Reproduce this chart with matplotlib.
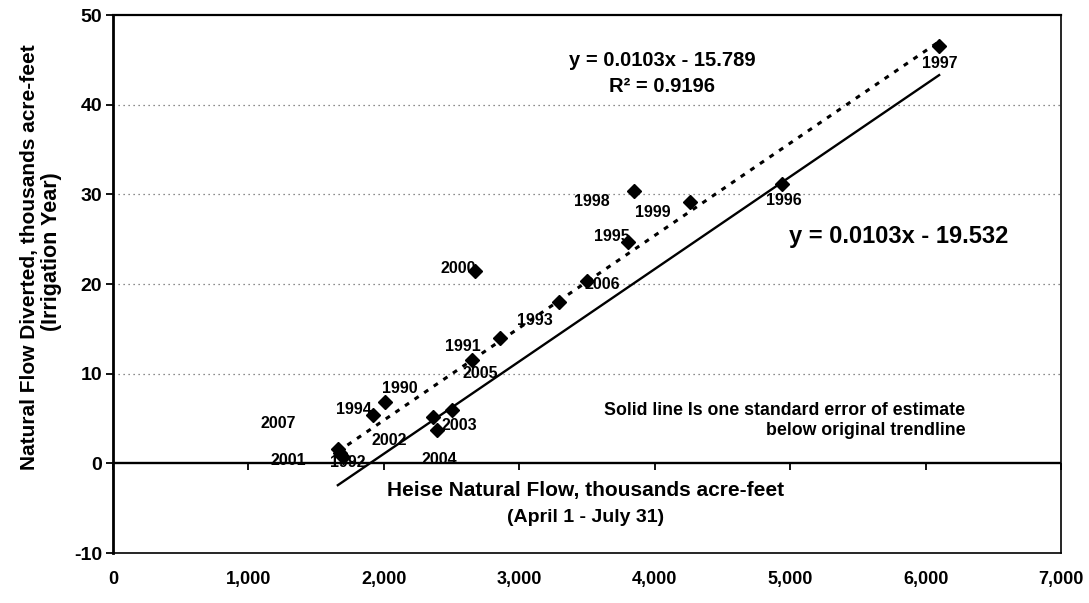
import numpy as np
import matplotlib
matplotlib.use("Agg")
import matplotlib.pyplot as plt

# ---- data ----
years = [1997, 1996, 1998, 1999, 1995, 2000, 2006, 1993, 1991,
         2005, 1990, 1994, 2002, 2003, 2004, 2007, 2001, 1992]
heise_flow = [6100, 4943, 3850, 4261, 3806, 2673, 3500, 3290, 2858,
              2649, 2009, 1923, 2366, 2501, 2389, 1660, 1675, 1695]
diverted = [46.5, 31.2, 30.4, 29.2, 24.7, 21.4, 20.3, 18.0, 14.0,
            11.5, 6.8, 5.4, 5.2, 5.9, 3.7, 1.6, 1.1, 0.7]

trend_slope = 0.0103
trend_intercept = -15.789
trend_r2 = 0.9196
se_intercept = -19.532

x_ticks = [0, 1000, 2000, 3000, 4000, 5000, 6000, 7000]
y_ticks = [-10, 0, 10, 20, 30, 40, 50]
grid_levels = [10, 20, 30, 40]

# label offsets (points) - styling only
label_offsets = {
    1997: (0.7, -12), 1996: (0.7, -12), 1998: (-31, -8), 1999: (-26.6, -7.9),
    1995: (-12.2, 3.6), 2000: (-12, 2.2), 2006: (11, -2), 1993: (-17, -13),
    1991: (-26.6, -6.5), 2005: (6.5, -9.4), 1990: (10.8, 10), 1994: (-14.4, 3.6),
    2002: (-31.7, -17.3), 2003: (5.8, -10.8), 2004: (2.2, -20.9),
    2007: (-43, 18.7), 2001: (-37.4, -5), 1992: (3.6, -3.6),
}

plt.rcParams["font.family"] = ["Liberation Sans", "DejaVu Sans"]
plt.rcParams["font.weight"] = "bold"
plt.rcParams["axes.unicode_minus"] = False

fig = plt.figure(figsize=(10.89, 6.03), dpi=100)
ax = fig.add_axes([0.1038, 0.0829, 0.8705, 0.8922])
ax.set_xlim(0, 7000)
ax.set_ylim(-10, 50)

for g in grid_levels:
    ax.axhline(g, color="#666666", lw=0.9, ls=(0, (1, 3)), zorder=1)
ax.axhline(0, color="black", lw=1.7, zorder=2)

# ticks on the zero line
sec = ax.secondary_xaxis((0 - (-10)) / 60.0)
sec.set_xticks(x_ticks)
sec.xaxis.set_ticks_position("bottom")
sec.tick_params(direction="out", length=5, width=1.3, labelbottom=False, labeltop=False)
for s in sec.spines.values():
    s.set_visible(False)

ax.set_xticks(x_ticks)
ax.set_xticklabels([f"{v:,}" for v in x_ticks], fontsize=13, fontweight="bold")
ax.tick_params(axis="x", length=0, pad=13)
ax.set_yticks(y_ticks)
ax.set_yticklabels([str(v) for v in y_ticks], fontsize=14, fontweight="bold")
ax.tick_params(axis="y", direction="out", length=5, width=1.3, pad=3)

ax.spines["left"].set_linewidth(2.0)
ax.spines["top"].set_linewidth(1.6)
ax.spines["right"].set_linewidth(1.2)
ax.spines["bottom"].set_linewidth(1.2)

xs = np.array(heise_flow, dtype=float)
xr = np.array([xs.min(), xs.max()])
ax.plot(xr, trend_slope * xr + trend_intercept, color="black", lw=2.2,
        ls=(0, (1.6, 2.2)), zorder=3)
ax.plot(xr, trend_slope * xr + se_intercept, color="black", lw=1.7, zorder=3)

ax.plot(heise_flow, diverted, ls="none", marker="D", color="black", ms=7, zorder=5)

for yr, x, y in zip(years, heise_flow, diverted):
    ax.annotate(str(yr), (x, y), xytext=label_offsets[yr], textcoords="offset points",
                ha="center", va="center", fontsize=11.5, fontweight="bold", zorder=6)

ax.text(4055, 44.9, f"y = {trend_slope}x - {abs(trend_intercept)}", ha="center",
        va="center", fontsize=14.5, fontweight="bold")
ax.text(4055, 42.0, f"R\u00b2 = {trend_r2}", ha="center", va="center",
        fontsize=14.5, fontweight="bold")
ax.text(5798, 25.3, f"y = {trend_slope}x - {abs(se_intercept)}", ha="center",
        va="center", fontsize=17, fontweight="bold")
ax.text(6292, 4.75, "Solid line Is one standard error of estimate\nbelow original trendline",
        ha="right", va="center", multialignment="right", fontsize=12.8,
        fontweight="bold", linespacing=1.25)

ax.text(0.498, 0.117, "Heise Natural Flow, thousands acre-feet", transform=ax.transAxes,
        ha="center", va="center", fontsize=15, fontweight="bold")
ax.text(0.498, 0.066, "(April 1 - July 31)", transform=ax.transAxes,
        ha="center", va="center", fontsize=14, fontweight="bold")

fig.text(30 / 1089, 1 - 257 / 603, "Natural Flow Diverted, thousands acre-feet",
         rotation=90, ha="center", va="center", fontsize=15, fontweight="bold")
fig.text(52 / 1089, 1 - 252 / 603, "(Irrigation Year)",
         rotation=90, ha="center", va="center", fontsize=15.5, fontweight="bold")

fig.savefig("out.png", dpi=100)
